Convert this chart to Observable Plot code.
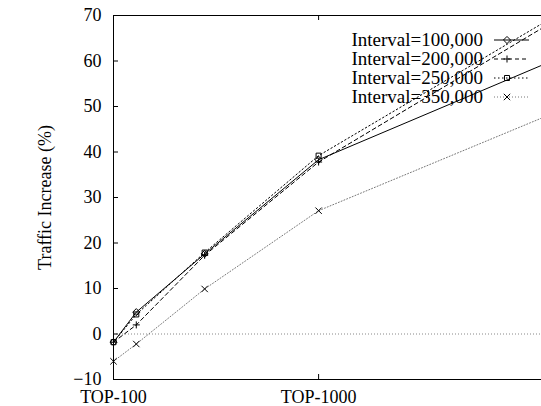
<!DOCTYPE html>
<html>
<head>
<meta charset="utf-8">
<script src="https://cdn.jsdelivr.net/npm/d3@7"></script>
<script src="https://cdn.jsdelivr.net/npm/@observablehq/plot@0.6"></script>
<style>
  body { margin: 0; background: #fff; }
</style>
</head>
<body>
<div id="chart"></div>
<script>
// Top-N list sizes on the x axis
const sizes = [100, 200, 500, 1000, 2000];
const xTicks = [100, 1000];
const xTickLabels = ["TOP-100", "TOP-1000"];
const yTicks = [-10, 0, 10, 20, 30, 40, 50, 60, 70];
const yLabel = "Traffic Increase (%)";

// Traffic increase (%) per update interval
const seriesNames = ["Interval=100,000", "Interval=200,000", "Interval=250,000", "Interval=350,000"];
const interval100k = [-1.8, 4.8, 17.6, 38.3, 59.5];
const interval200k = [-1.8, 2.0, 17.3, 37.8, 67.8];
const interval250k = [-1.8, 4.3, 17.9, 39.2, 68.8];
const interval350k = [-6.0, -2.2, 9.9, 27.1, 47.9];

const FONT = "'Liberation Serif', 'Times New Roman', serif";

const WIDTH = 541, HEIGHT = 406;
const M = {left: 113, right: -5, top: 15, bottom: 27};
const TICK = 5;
const plotW = WIDTH - M.left - M.right;
const plotH = HEIGHT - M.top - M.bottom;

const styles = [
  {stroke: "#000", dash: null,      symbol: "diamond2", r: 3.2, d3sym: d3.symbolDiamond2},
  {stroke: "#000", dash: "4,3",     symbol: "plus",     r: 2.4, d3sym: d3.symbolPlus},
  {stroke: "#000", dash: "1.5,2.5", symbol: "square2",  r: 3.2, d3sym: d3.symbolSquare2},
  {stroke: "#777", dash: "1,2",     symbol: "times",    r: 3.0, d3sym: d3.symbolTimes}
];

const allSeries = [interval100k, interval200k, interval250k, interval350k];
const rowsBySeries = allSeries.map((vals, s) =>
  sizes.map((x, i) => ({series: seriesNames[s], x, y: vals[i]}))
);

// In-plot key, top right
function key(index, scales, values, dims) {
  const g = d3.create("svg:g")
    .attr("font-family", FONT)
    .attr("font-size", 19)
    .attr("fill", "black");
  const textRight = dims.width - dims.marginRight - 63;
  seriesNames.forEach((name, i) => {
    const st = styles[i];
    const cy = dims.marginTop + 25 + i * 19;
    g.append("text")
      .attr("x", textRight)
      .attr("y", cy)
      .attr("dy", "0.33em")
      .attr("text-anchor", "end")
      .text(name);
    g.append("line")
      .attr("x1", textRight + 11).attr("x2", textRight + 46)
      .attr("y1", cy).attr("y2", cy)
      .attr("stroke", st.stroke)
      .attr("stroke-dasharray", st.dash);
    const size = Math.PI * st.r * st.r;
    g.append("path")
      .attr("transform", `translate(${textRight + 24},${cy})`)
      .attr("d", d3.symbol(st.d3sym, size)())
      .attr("fill", "none")
      .attr("stroke", "#000");
  });
  return g.node();
}

const marks = [
  Plot.ruleY([0], {stroke: "#888", strokeDasharray: "1,2"})
];
rowsBySeries.forEach((rows, s) => {
  const st = styles[s];
  marks.push(Plot.line(rows, {x: "x", y: "y", stroke: st.stroke, strokeWidth: 1, strokeDasharray: st.dash}));
});
rowsBySeries.forEach((rows, s) => {
  const st = styles[s];
  marks.push(Plot.dot(rows, {x: "x", y: "y", symbol: () => st.symbol, r: st.r, fill: "none", stroke: "#000", strokeWidth: 1}));
});
marks.push(
  Plot.frame({stroke: "#000"}),
  // short inward ticks on all four sides
  Plot.tickY(yTicks, {y: d => d, stroke: "#000", insetRight: plotW - TICK}),
  Plot.tickY(yTicks, {y: d => d, stroke: "#000", insetLeft: plotW - TICK}),
  Plot.tickX(xTicks, {x: d => d, stroke: "#000", insetTop: plotH - TICK}),
  Plot.tickX(xTicks, {x: d => d, stroke: "#000", insetBottom: plotH - TICK}),
  // tick labels
  Plot.axisY(yTicks, {anchor: "left", tickSize: 0, tickPadding: 12, label: null, fontSize: 18}),
  Plot.axisX(xTicks, {anchor: "bottom", tickSize: 0, tickPadding: 11, label: null, fontSize: 18,
    tickFormat: d => xTickLabels[xTicks.indexOf(d)]}),
  Plot.text([yLabel], {text: d => d, frameAnchor: "left", textAnchor: "middle", rotate: -90, dx: -68, fontSize: 18}),
  key
);

const chart = Plot.plot({
  width: WIDTH,
  height: HEIGHT,
  marginLeft: M.left,
  marginRight: M.right,
  marginTop: M.top,
  marginBottom: M.bottom,
  style: {fontFamily: FONT, fontSize: "18px", color: "black", background: "white"},
  x: {type: "linear", domain: [100, 2000]},
  y: {domain: [-10, 70]},
  marks
});
document.getElementById("chart").append(chart);
</script>
</body>
</html>
